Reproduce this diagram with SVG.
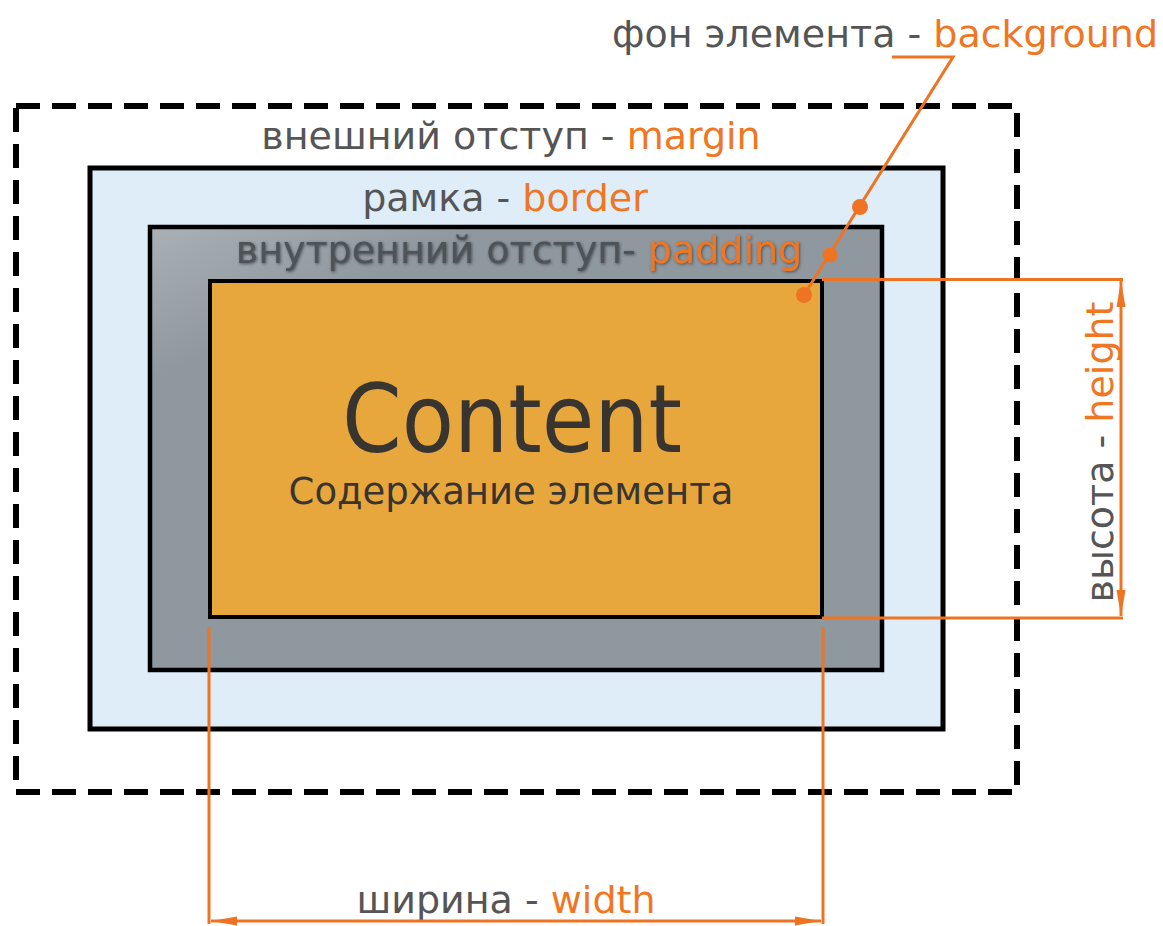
<svg xmlns="http://www.w3.org/2000/svg" width="1163" height="926" viewBox="0 0 1163 926">
  <defs>
    <style>
      .lbl { font-family: "DejaVu Sans", Verdana, sans-serif; font-size: 38px; fill: #555555; }
      .hl { fill: #ef7622; }
      .box { stroke: #000; }
      .dim { stroke: #ee7423; stroke-width: 3; fill: none; }
    </style>
    <linearGradient id="padFill" x1="0" y1="0" x2="0.3" y2="0.4">
      <stop offset="0" stop-color="#aab0b4"/>
      <stop offset="0.55" stop-color="#8f989f"/>
      <stop offset="1" stop-color="#8f989f"/>
    </linearGradient>
    <filter id="soft" x="-5%" y="-30%" width="110%" height="160%">
      <feGaussianBlur in="SourceAlpha" stdDeviation="1.6" result="b"/>
      <feOffset in="b" dx="1" dy="1" result="o"/>
      <feFlood flood-color="#2a2d30" flood-opacity="0.7"/>
      <feComposite in2="o" operator="in" result="s"/>
      <feGaussianBlur in="SourceGraphic" stdDeviation="0.5" result="g"/>
      <feMerge><feMergeNode in="s"/><feMergeNode in="g"/></feMerge>
    </filter>
    <marker id="arr" viewBox="0 0 26 12" refX="26" refY="6" markerWidth="26" markerHeight="12" markerUnits="userSpaceOnUse" orient="auto-start-reverse">
      <path d="M0,1.5 L26,6 L0,10.5 Z" fill="#ee7423"/>
    </marker>
  </defs>

  <rect width="1163" height="926" fill="#ffffff"/>

  <!-- margin area: dashed outline -->
  <g id="margin-box">
    <rect x="16" y="106" width="1001" height="686" fill="none" stroke="#000" stroke-width="6" stroke-dasharray="24 12"/>
  </g>

  <!-- border area -->
  <g id="border-box">
    <rect class="box" x="90" y="168" width="853" height="561" fill="#deedf7" stroke-width="5"/>
  </g>

  <!-- padding area -->
  <g id="padding-box">
    <rect class="box" x="150" y="227" width="732" height="443" fill="url(#padFill)" stroke-width="4.5"/>
  </g>

  <!-- content area -->
  <g id="content-box">
    <rect class="box" x="210" y="281" width="612" height="336" fill="#e8a73c" stroke-width="4"/>
    <text x="512" y="452" text-anchor="middle" font-family="'DejaVu Sans Condensed', 'DejaVu Sans', sans-serif" font-size="95" fill="#38342f">Content</text>
    <text x="511" y="504" text-anchor="middle" class="lbl" style="fill:#38342f; font-size:37px">Содержание элемента</text>
  </g>

  <!-- labels -->
  <g id="labels">
    <text x="885" y="47" text-anchor="middle" class="lbl">фон элемента - <tspan class="hl">background</tspan></text>
    <text x="511" y="149" text-anchor="middle" class="lbl">внешний отступ - <tspan class="hl">margin</tspan></text>
    <text x="505" y="211" text-anchor="middle" class="lbl">рамка - <tspan class="hl">border</tspan></text>
    <text x="519" y="263" text-anchor="middle" class="lbl" style="fill:#4d5256" filter="url(#soft)">внутренний отступ- <tspan class="hl">padding</tspan></text>
    <text x="506" y="913" text-anchor="middle" class="lbl">ширина - <tspan class="hl">width</tspan></text>
    <text transform="translate(1113,452) rotate(-90)" x="0" y="0" text-anchor="middle" class="lbl">высота - <tspan class="hl">height</tspan></text>
  </g>

  <!-- connectors: dimension lines and background leader -->
  <g id="connectors">
    <!-- height -->
    <line class="dim" x1="822" y1="279.5" x2="1123" y2="279.5"/>
    <line class="dim" x1="822" y1="618" x2="1123" y2="618"/>
    <line class="dim" x1="1121" y1="281" x2="1121" y2="616" marker-start="url(#arr)" marker-end="url(#arr)"/>
    <!-- width -->
    <line class="dim" x1="209" y1="627" x2="209" y2="924"/>
    <line class="dim" x1="823" y1="627" x2="823" y2="924"/>
    <line class="dim" x1="211" y1="921" x2="821" y2="921" marker-start="url(#arr)" marker-end="url(#arr)"/>
    <!-- background leader -->
    <polyline class="dim" points="892,57 953,57 804,295"/>
    <circle cx="860" cy="207" r="8" fill="#ee7423"/>
    <circle cx="830" cy="255" r="7.5" fill="#ee7423"/>
    <circle cx="804" cy="295" r="8" fill="#ee7423"/>
  </g>
</svg>
